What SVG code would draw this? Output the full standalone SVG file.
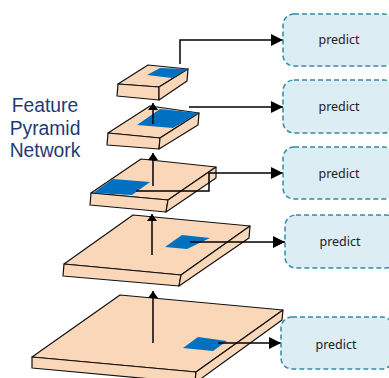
<svg xmlns="http://www.w3.org/2000/svg" width="389" height="378" viewBox="0 0 389 378">
<style>
.f{fill:#FBD7BA;stroke:#111;stroke-width:1.2;stroke-linejoin:round}
.b{fill:#0070C0;stroke:none}
.c{fill:none;stroke:#000;stroke-width:1.5}
.h{marker-end:url(#ah)}
.v{marker-end:url(#av)}
.p{fill:#DCEDF3;stroke:#2F8CA6;stroke-width:1.5;stroke-dasharray:5 3}
.t{font-family:"Noto Sans","Open Sans",sans-serif;font-size:12.5px;fill:#222;text-anchor:middle}
.l{font-family:"Liberation Sans",Arial,sans-serif;font-size:19.3px;fill:#1F3A75;text-anchor:middle}
</style>
<defs>
<marker id="ah" markerUnits="userSpaceOnUse" markerWidth="13" markerHeight="14" refX="12" refY="7" orient="auto"><path d="M0 1L12 7L0 13Z" fill="#000"/></marker>
<marker id="av" markerUnits="userSpaceOnUse" markerWidth="8" markerHeight="10" refX="7" refY="5" orient="auto"><path d="M0 0L7 5L0 10Z" fill="#000"/></marker>
</defs>
<g id="slab5"><path class="f" d="M32 357L120 295L283 310L196 372Z"/><path class="f" d="M32 357L32 368L195 383L196 372Z"/><path class="f" d="M196 372L195 383L282 320L283 310Z"/><path class="b" d="M183 348L198 337L227 341L213 351Z"/></g>
<g id="slab4"><path class="f" d="M64 264L133 215L250 226L181 275Z"/><path class="f" d="M64 264L63 276L179 286L181 275Z"/><path class="f" d="M181 275L179 286L249 238L250 226Z"/><path class="b" d="M165 247L182 235L210 238L187 249Z"/></g>
<g id="slab3"><path class="f" d="M91 193L141 159L216 167L168 200Z"/><path class="f" d="M91 193L90 205L166 212L168 200Z"/><path class="f" d="M168 200L166 212L216 178L216 167Z"/><path class="b" d="M93 193L113 179L150 182L132 195Z"/></g>
<g id="slab2"><path class="f" d="M108 133L150 106L199 113L160 138Z"/><path class="f" d="M108 133L107 145L159 149L160 138Z"/><path class="f" d="M160 138L159 149L198 125L199 113Z"/><path class="b" d="M137 125L160 109L199 113L173 128Z"/></g>
<g id="slab1"><path class="f" d="M118 84L148 65L188 69L159 87Z"/><path class="f" d="M118 84L117 96L159 100L159 87Z"/><path class="f" d="M159 87L159 100L187 81L188 69Z"/><path class="b" d="M147 75L160 68L188 69L172 78Z"/></g>
<g id="connectors">
<path class="c v" d="M153 124V103"/>
<path class="c v" d="M153 186V153"/>
<path class="c v" d="M152 255V214"/>
<path class="c v" d="M153 343V291"/>
<path class="c h" d="M180 64V40H283"/>
<path class="c h" d="M189 107H283"/>
<path class="c h" d="M136 191H209V173H283"/>
<path class="c h" d="M190 242H285"/>
<path class="c h" d="M218 343H281"/>
</g>
<g id="predict1"><rect class="p" x="283" y="14" width="112" height="52" rx="11"/><text class="t" x="339" y="44">predict</text></g>
<g id="predict2"><rect class="p" x="283" y="80" width="112" height="53" rx="11"/><text class="t" x="339" y="111">predict</text></g>
<g id="predict3"><rect class="p" x="283" y="147" width="112" height="52" rx="11"/><text class="t" x="339" y="178">predict</text></g>
<g id="predict4"><rect class="p" x="285" y="215" width="112" height="53" rx="11"/><text class="t" x="340" y="246">predict</text></g>
<g id="predict5"><rect class="p" x="281" y="317" width="112" height="52" rx="11"/><text class="t" x="336" y="349">predict</text></g>
<g id="label"><text class="l" x="45" y="112">Feature</text><text class="l" x="45" y="135">Pyramid</text><text class="l" x="45" y="157">Network</text></g>
</svg>
